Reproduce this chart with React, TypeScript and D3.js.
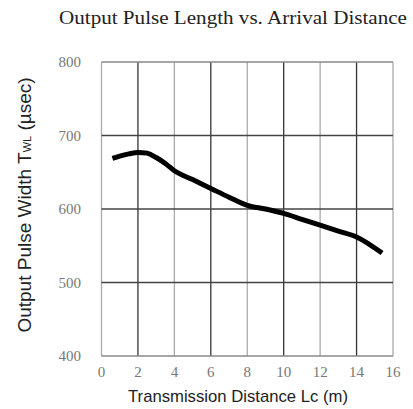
import { useEffect, useRef } from "react";
import * as d3 from "d3";

const distance = [0.6, 1, 1.5, 2, 2.5, 3, 3.5, 4, 5, 6, 7, 8, 9, 10, 11, 12, 13, 14, 15.4];
const pulseWidth = [669, 672, 675, 677, 676, 670, 662, 652, 640, 628, 616, 605, 600, 594, 586, 578, 570, 562, 540];
const xTicks = [0, 2, 4, 6, 8, 10, 12, 14, 16];
const yTicks = [400, 500, 600, 700, 800];
const darkX = [2, 6, 10, 14];

const W = 413;
const H = 409;

export default function App() {
  const svgRef = useRef<SVGSVGElement>(null);

  useEffect(() => {
    if (!svgRef.current) return;
    const svg = d3.select(svgRef.current);
    svg.selectAll("*").remove();

    const x = d3.scaleLinear().domain([0, 16]).range([101.5, 393]);
    const y = d3.scaleLinear().domain([400, 800]).range([356, 62]);

    // grid
    svg
      .append("g")
      .selectAll("line")
      .data(xTicks)
      .join("line")
      .attr("x1", (d) => x(d))
      .attr("x2", (d) => x(d))
      .attr("y1", y(800))
      .attr("y2", y(400))
      .attr("stroke", (d) => (darkX.includes(d) ? "#333" : "#aaa"))
      .attr("stroke-width", 1.3);

    svg
      .append("g")
      .selectAll("line")
      .data(yTicks)
      .join("line")
      .attr("x1", x(0))
      .attr("x2", x(16))
      .attr("y1", (d) => y(d))
      .attr("y2", (d) => y(d))
      .attr("stroke", (d) => (d === 400 || d === 800 ? "#888" : "#444"))
      .attr("stroke-width", 1.3);

    // tick labels
    svg
      .append("g")
      .selectAll("text")
      .data(yTicks)
      .join("text")
      .attr("x", 81)
      .attr("y", (d) => y(d))
      .attr("dy", "0.35em")
      .attr("text-anchor", "end")
      .attr("font-family", "Liberation Serif, serif")
      .attr("font-size", 15)
      .attr("fill", "#777")
      .text((d) => d);

    svg
      .append("g")
      .selectAll("text")
      .data(xTicks)
      .join("text")
      .attr("x", (d) => x(d))
      .attr("y", 377)
      .attr("text-anchor", "middle")
      .attr("font-family", "Liberation Serif, serif")
      .attr("font-size", 15)
      .attr("fill", "#777")
      .text((d) => d);

    // curve
    const line = d3
      .line<number>()
      .x((_, i) => x(distance[i]))
      .y((d) => y(d))
      .curve(d3.curveMonotoneX);

    svg
      .append("path")
      .datum(pulseWidth)
      .attr("d", line)
      .attr("fill", "none")
      .attr("stroke", "#000")
      .attr("stroke-width", 5)
      .attr("stroke-linejoin", "round");

    // title
    svg
      .append("text")
      .attr("x", 233)
      .attr("y", 24)
      .attr("text-anchor", "middle")
      .attr("font-family", "Liberation Serif, serif")
      .attr("font-size", 19)
      .attr("fill", "#222")
      .attr("textLength", 348)
      .attr("lengthAdjust", "spacingAndGlyphs")
      .text("Output Pulse Length vs. Arrival Distance");

    // x label
    svg
      .append("text")
      .attr("x", 238)
      .attr("y", 402)
      .attr("text-anchor", "middle")
      .attr("font-family", "Liberation Sans, Arial, sans-serif")
      .attr("font-size", 17)
      .attr("fill", "#222")
      .attr("textLength", 220)
      .attr("lengthAdjust", "spacingAndGlyphs")
      .text("Transmission Distance Lc (m)");

    // y label
    const yl = svg
      .append("text")
      .attr("transform", "translate(31,205) rotate(-90)")
      .attr("text-anchor", "middle")
      .attr("font-family", "Liberation Sans, Arial, sans-serif")
      .attr("font-size", 19)
      .attr("fill", "#222");
    yl.append("tspan").text("Output Pulse Width T");
    yl.append("tspan").attr("font-size", 11).text("WL");
    yl.append("tspan").text(" (\u00b5sec)");
  }, []);

  return (
    <svg
      ref={svgRef}
      width={W}
      height={H}
      style={{ position: "absolute", left: 0, top: 0, background: "#fff" }}
    />
  );
}
